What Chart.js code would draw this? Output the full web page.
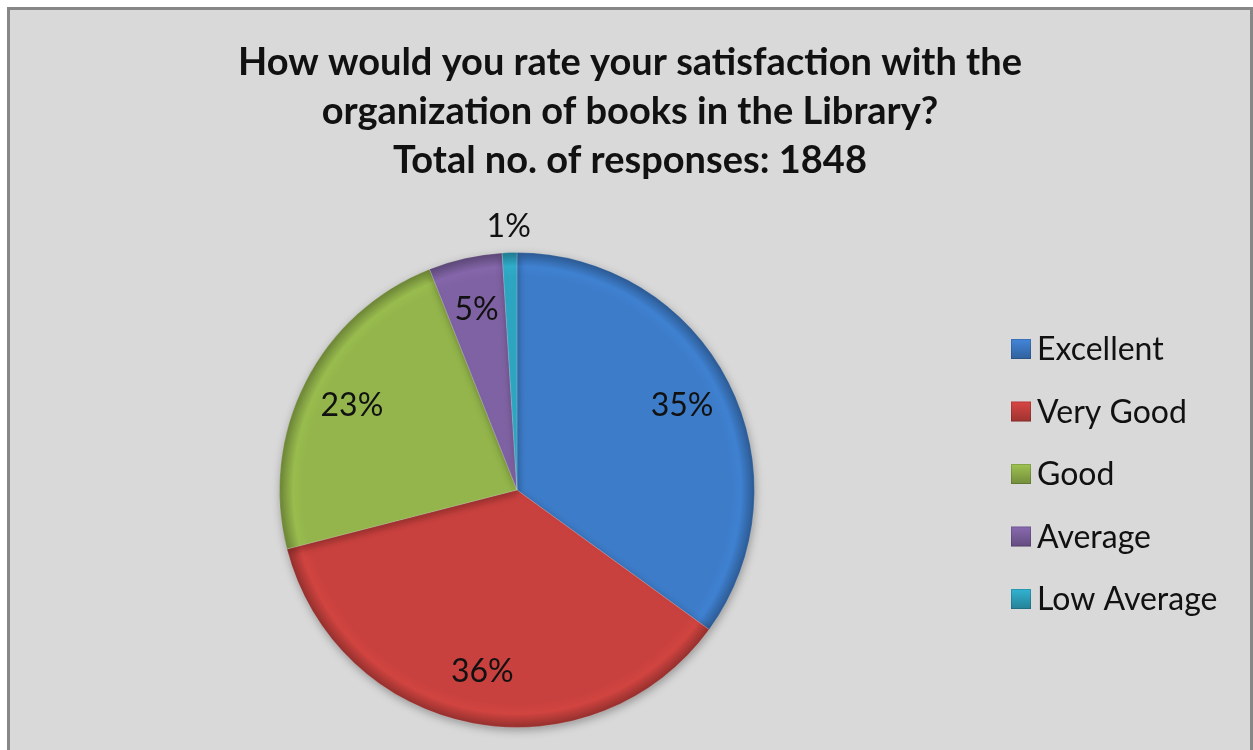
<!DOCTYPE html>
<html>
<head>
<meta charset="utf-8">
<script src="https://cdn.jsdelivr.net/npm/chart.js@4.4.1/dist/chart.umd.min.js"></script>
<style>
  html, body { margin: 0; padding: 0; background: #fff; overflow: hidden; }
  #frame {
    position: absolute; left: 7px; top: 7px;
    width: 1240px; height: 760px;
    border: 3px solid #878787; background: #d9d9d9;
  }
  #chart { position: absolute; left: 0; top: 0; }
</style>
</head>
<body>
<div id="frame"><canvas id="chart"></canvas></div>
<script>
const titleLines = [
  'How would you rate your satisfaction with the',
  'organization of books in the Library?',
  'Total no. of responses: 1848'
];
const categories = ['Excellent', 'Very Good', 'Good', 'Average', 'Low Average'];
const shares = [35, 36, 23, 5, 1]; // percent of responses
const colors = ['#3d7cc9', '#c9413e', '#93b54b', '#7f62a3', '#2ea6c2'];

const ctx = document.getElementById('chart').getContext('2d');
ctx.canvas.width = 1240;
ctx.canvas.height = 743;

// scale a hex colour by factor f
function shade(hex, f) {
  const n = parseInt(hex.slice(1), 16);
  const ch = v => Math.min(255, Math.round(v * f));
  return `rgb(${ch((n >> 16) & 255)},${ch((n >> 8) & 255)},${ch(n & 255)})`;
}

// radial fill so each slice gets a lighter band and darker rim, a bit like a bevel
function sliceFill(context) {
  const base = colors[context.dataIndex];
  const area = context.chart.chartArea;
  if (!area) return base;
  const cx = (area.left + area.right) / 2;
  const cy = (area.top + area.bottom) / 2;
  const r = Math.min(area.right - area.left, area.bottom - area.top) / 2;
  const g = context.chart.ctx.createRadialGradient(cx, cy, 0, cx, cy, r);
  g.addColorStop(0, base);
  g.addColorStop(0.9, base);
  g.addColorStop(0.94, shade(base, 1.04));
  g.addColorStop(1, shade(base, 0.72));
  return g;
}

// soft drop shadow under the pie
const pieShadow = {
  id: 'pieShadow',
  beforeDatasetsDraw(chart) {
    const c = chart.ctx;
    c.save();
    c.shadowColor = 'rgba(0,0,0,0.3)';
    c.shadowBlur = 9;
    c.shadowOffsetX = 1;
    c.shadowOffsetY = 3;
  },
  afterDatasetsDraw(chart) {
    chart.ctx.restore();
  }
};

// percentage labels, tiny slices get theirs outside the rim
const sliceLabels = {
  id: 'sliceLabels',
  afterDatasetsDraw(chart) {
    const c = chart.ctx;
    const meta = chart.getDatasetMeta(0);
    const data = chart.data.datasets[0].data;
    const total = data.reduce((a, b) => a + b, 0);
    c.save();
    c.font = '32px Lato';
    c.fillStyle = '#111';
    c.textAlign = 'center';
    c.textBaseline = 'middle';
    meta.data.forEach((arc, i) => {
      const p = arc.getProps(['x', 'y', 'startAngle', 'endAngle', 'outerRadius'], true);
      const mid = (p.startAngle + p.endAngle) / 2;
      const frac = data[i] / total;
      const r = frac < 0.02 ? p.outerRadius + 26 : p.outerRadius * 0.78;
      c.fillText(Math.round(frac * 100) + '%', p.x + Math.cos(mid) * r, p.y + Math.sin(mid) * r);
    });
    c.restore();
  }
};

// title block and legend on the right
const chartText = {
  id: 'chartText',
  afterDraw(chart) {
    const c = chart.ctx;
    c.save();
    c.fillStyle = '#111';
    c.textAlign = 'center';
    c.textBaseline = 'middle';
    c.font = 'bold 38px Lato';
    titleLines.forEach((t, i) => c.fillText(t, chart.width / 2, 53 + i * 49));

    c.textAlign = 'left';
    c.font = '32px Lato';
    chart.data.labels.forEach((lab, i) => {
      const y = 339 + i * 62.5;
      const col = colors[i];
      const g = c.createLinearGradient(0, y - 10, 0, y + 10);
      g.addColorStop(0, shade(col, 1.08));
      g.addColorStop(1, shade(col, 0.78));
      c.fillStyle = g;
      c.fillRect(1001, y - 10, 20, 20);
      c.strokeStyle = 'rgba(0,0,0,0.15)';
      c.lineWidth = 1;
      c.strokeRect(1001.5, y - 9.5, 19, 19);
      c.fillStyle = '#111';
      c.fillText(lab, 1027, y + 1);
    });
    c.restore();
  }
};

const chart = new Chart(ctx, {
  type: 'pie',
  data: {
    labels: categories,
    datasets: [{
      data: shares,
      backgroundColor: sliceFill,
      borderColor: 'rgba(255,255,255,0.18)',
      borderWidth: 1
    }]
  },
  options: {
    responsive: false,
    animation: false,
    layout: { padding: { top: 242, right: 226, bottom: 25, left: 0 } },
    plugins: {
      legend: { display: false },
      title: { display: false },
      tooltip: { enabled: false }
    }
  },
  plugins: [pieShadow, sliceLabels, chartText]
});
</script>
</body>
</html>
